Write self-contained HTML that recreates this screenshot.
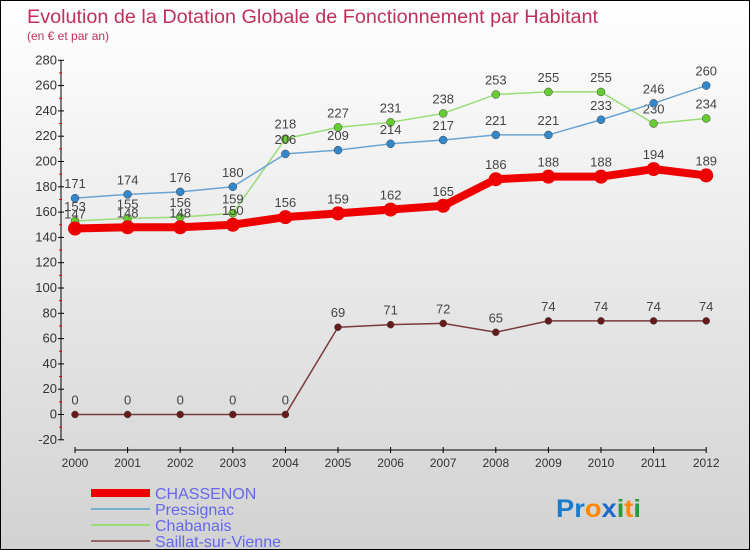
<!DOCTYPE html>
<html><head><meta charset="utf-8"><style>
html,body{margin:0;padding:0}
body{width:750px;height:550px;overflow:hidden;font-family:"Liberation Sans","DejaVu Sans",sans-serif}
#wrap{position:relative;width:748px;height:548px;border:1px solid #000;background:linear-gradient(#fff,#d2d2d2)}
</style></head><body>
<div id="wrap">
<svg id="chart" width="748" height="548" style="position:absolute;left:0;top:0;font-family:'Liberation Sans',sans-serif">
<text x="26" y="22" font-size="19" fill="#c0305a" textLength="571" lengthAdjust="spacingAndGlyphs">Evolution de la Dotation Globale de Fonctionnement par Habitant</text>
<text x="26" y="39" font-size="12" fill="#c0305a">(en € et par an)</text>
<g id="axes"></g><g id="series"></g>
<g font-size="16" fill="#6666ee">
<rect x="90" y="488" width="59" height="8" fill="#e00"/>
<text x="154" y="498">CHASSENON</text>
<rect x="90" y="507" width="59" height="2" fill="#7aaed0"/>
<text x="154" y="514">Pressignac</text>
<rect x="90" y="523" width="59" height="2" fill="#99dd77"/>
<text x="154" y="530">Chabanais</text>
<rect x="90" y="539" width="59" height="2" fill="#996666"/>
<text x="154" y="546">Saillat-sur-Vienne</text>
</g>
<text x="555" y="516" font-size="25" font-weight="bold" textLength="85" lengthAdjust="spacingAndGlyphs"><tspan fill="#1a7acc">Pr</tspan><tspan fill="#ff8800">o</tspan><tspan fill="#1a6acc">x</tspan><tspan fill="#2a9a3a">i</tspan><tspan fill="#ff8800">t</tspan><tspan fill="#2a9a3a">i</tspan></text>
</svg>
</div>
<script>
const years=["2000","2001","2002","2003","2004","2005","2006","2007","2008","2009","2010","2011","2012"];
const yTicks=[-20,0,20,40,60,80,100,120,140,160,180,200,220,240,260,280];
const chassenon=[147,148,148,150,156,159,162,165,186,188,188,194,189];
const pressignac=[171,174,176,180,206,209,214,217,221,221,233,246,260];
const chabanais=[153,155,156,159,218,227,231,238,253,255,255,230,234];
const saillat=[0,0,0,0,0,69,71,72,65,74,74,74,74];
const NS="http://www.w3.org/2000/svg";
const X=i=>74+i*52.6;
const Y=v=>413.5-v*1.265;
function mk(tag,attrs,parent){const e=document.createElementNS(NS,tag);for(const k in attrs)e.setAttribute(k,attrs[k]);parent.appendChild(e);return e;}
const ax=document.getElementById('axes');
let l=mk('line',{x1:60,y1:Y(280),x2:60,y2:Y(-20),stroke:'#000'},ax);


l=mk('line',{x1:X(0),y1:449,x2:X(12),y2:449,stroke:'#000'},ax);


yTicks.forEach(v=>{
  mk('line',{x1:57,y1:Y(v),x2:63,y2:Y(v),stroke:'#000'},ax);
  if(v<280) mk('line',{x1:58,y1:Y(v+10),x2:61,y2:Y(v+10),stroke:'#e00'},ax);
  const t=mk('text',{x:56,y:Y(v)+4,'font-size':13,fill:'#333','text-anchor':'end'},ax);
  t.textContent=v;
  
  
});
years.forEach((y,i)=>{
  mk('line',{x1:X(i),y1:446,x2:X(i),y2:452,stroke:'#000'},ax);
  const t=mk('text',{x:X(i),y:466,'font-size':12,fill:'#333','text-anchor':'middle'},ax);
  t.textContent=y;
  
  
});
const sg=document.getElementById('series');
function draw(data,name,color,dot,w,r){
  const g=mk('g',{},sg);
  
  
  mk('polyline',{points:data.map((v,i)=>X(i)+','+Y(v)).join(' '),fill:'none',stroke:color,'stroke-width':w},g);
  data.forEach((v,i)=>{
    const c=mk('circle',{cx:X(i),cy:Y(v),r:r,fill:dot,stroke:w>3?'none':'#444','stroke-width':0.5},g);
    
    
    const t=mk('text',{x:X(i),y:Y(v)-10,'font-size':13,fill:'#444','text-anchor':'middle'},g);
    t.textContent=v;
    
    
  });
}
draw(saillat,'saillat','#7a3a3a','#661a1a',1.5,3.5);
draw(chabanais,'chabanais','#99dd77','#66cc33',1.5,4);
draw(pressignac,'pressignac','#6aa4d4','#3388cc',1.5,4);
draw(chassenon,'chassenon','#ee0000','#ee0000',8,7);
</script>
</body></html>
